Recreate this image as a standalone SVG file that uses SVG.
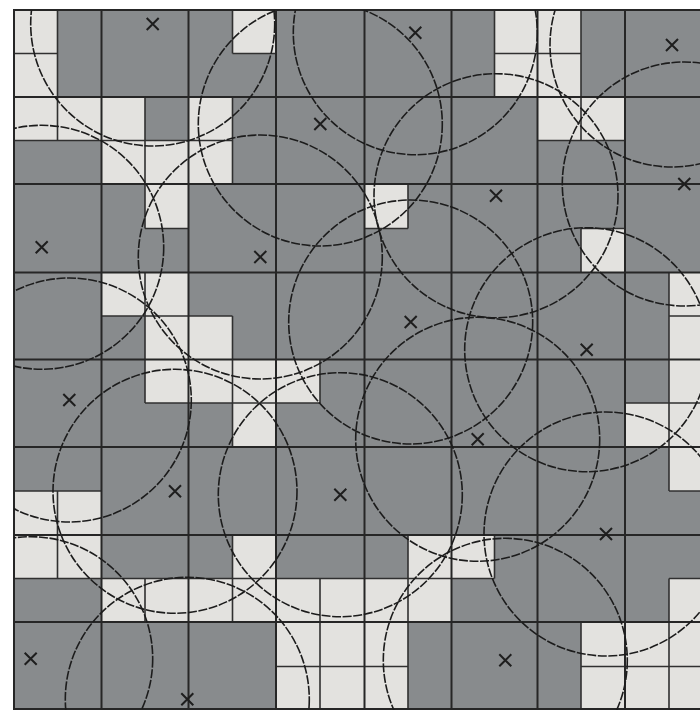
<svg xmlns="http://www.w3.org/2000/svg" width="700" height="710" viewBox="0 0 700 710">
<defs>
<style>
.dark{fill:#888b8d}
.light{fill:#e3e2df}
.major{stroke:#262626;stroke-width:2;fill:none}
.minor{stroke:#303030;stroke-width:1.6;fill:none}
.circ{stroke:#1c1c1c;stroke-width:1.6;fill:none;stroke-dasharray:9 1.6}
.mark{stroke:#1e1e1e;stroke-width:2;fill:none}
</style>
<clipPath id="area"><rect x="14" y="10" width="699" height="700"/></clipPath>
<path id="x" d="M-6,-6L6,6M-6,6L6,-6"/>
</defs>
<rect width="700" height="710" fill="#ffffff"/>
<g id="cells">
<rect class="dark" x="14" y="10" width="699" height="700"/>
<rect class="light" x="14" y="10" width="43.5" height="87"/>
<rect class="light" x="232.5" y="10" width="43.5" height="43.5"/>
<rect class="light" x="494.5" y="10" width="86.5" height="87"/>
<rect class="light" x="14" y="97" width="131" height="43.5"/>
<rect class="light" x="188.5" y="97" width="44" height="43.5"/>
<rect class="light" x="537.5" y="97" width="87.5" height="43.5"/>
<rect class="light" x="101.5" y="140.5" width="131" height="43.5"/>
<rect class="light" x="145" y="184" width="43.5" height="44.5"/>
<rect class="light" x="364.5" y="184" width="43.5" height="44.5"/>
<rect class="light" x="581" y="228.5" width="44" height="44"/>
<rect class="light" x="101.5" y="272.5" width="87" height="43.5"/>
<rect class="light" x="145" y="316" width="87.5" height="43.5"/>
<rect class="light" x="145" y="359.5" width="175" height="43.5"/>
<rect class="light" x="232.5" y="403" width="43.5" height="44"/>
<rect class="light" x="625" y="403" width="44" height="44"/>
<rect class="light" x="669" y="272.5" width="44" height="218.5"/>
<rect class="light" x="14" y="491" width="87.5" height="87.5"/>
<rect class="light" x="232.5" y="535" width="43.5" height="43.5"/>
<rect class="light" x="408" y="535" width="86.5" height="43.5"/>
<rect class="light" x="101.5" y="578.5" width="350" height="43.5"/>
<rect class="light" x="669" y="578.5" width="44" height="43.5"/>
<rect class="light" x="276" y="622" width="132" height="88"/>
<rect class="light" x="581" y="622" width="132" height="88"/>
</g>
<g id="grid">
<path class="minor" d="M14,53.5H57.5M232.5,53.5H276M494.5,53.5H581
M14,140.5H232.5M537.5,140.5H625
M145,228.5H188.5M364.5,228.5H408M581,228.5H625
M101.5,316H232.5M669,316H713
M145,403H320M625,403H713
M14,491H101.5M669,491H713
M14,578.5H494.5M669,578.5H713
M276,666.5H408M581,666.5H713
M57.5,10V140.5M57.5,491V578.5
M145,97V228.5M145,272.5V403M145,578.5V622
M232.5,10V53.5M232.5,97V184M232.5,316V447M232.5,535V622
M320,359.5V403M320,578.5V710
M408,184V228.5M408,535V710
M494.5,10V97M494.5,535V578.5
M581,10V140.5M581,228.5V272.5M581,622V710
M669,272.5V491M669,578.5V710"/>
<path class="major" d="M14,97H713M14,184H713M14,272.5H713M14,359.5H713M14,447H713M14,535H713M14,622H713M14,709H713
M101.5,10V710M188.5,10V710M276,10V710M364.5,10V710M451.5,10V710M537.5,10V710M625,10V710"/>
<path class="major" stroke-width="2.6" d="M713,10H14V710"/>
</g>
<g id="circles" clip-path="url(#area)">
<circle class="circ" cx="152.7" cy="24" r="122"/>
<circle class="circ" cx="415.3" cy="32.7" r="122"/>
<circle class="circ" cx="672" cy="45" r="122"/>
<circle class="circ" cx="320.3" cy="124" r="122"/>
<circle class="circ" cx="684.3" cy="184" r="122"/>
<circle class="circ" cx="496" cy="195.7" r="122"/>
<circle class="circ" cx="41.7" cy="247.3" r="122"/>
<circle class="circ" cx="260.3" cy="257" r="122"/>
<circle class="circ" cx="410.7" cy="322" r="122"/>
<circle class="circ" cx="586.7" cy="349.7" r="122"/>
<circle class="circ" cx="69.3" cy="400" r="122"/>
<circle class="circ" cx="477.7" cy="439.3" r="122"/>
<circle class="circ" cx="175" cy="491.3" r="122"/>
<circle class="circ" cx="340.3" cy="494.7" r="122"/>
<circle class="circ" cx="606" cy="534" r="122"/>
<circle class="circ" cx="30.7" cy="658.7" r="122"/>
<circle class="circ" cx="505.3" cy="660.3" r="122"/>
<circle class="circ" cx="187.3" cy="699.3" r="122"/>
</g>
<g id="marks" class="mark">
<use href="#x" x="152.7" y="24"/>
<use href="#x" x="415.3" y="32.7"/>
<use href="#x" x="672" y="45"/>
<use href="#x" x="320.3" y="124"/>
<use href="#x" x="684.3" y="184"/>
<use href="#x" x="496" y="195.7"/>
<use href="#x" x="41.7" y="247.3"/>
<use href="#x" x="260.3" y="257"/>
<use href="#x" x="410.7" y="322"/>
<use href="#x" x="586.7" y="349.7"/>
<use href="#x" x="69.3" y="400"/>
<use href="#x" x="477.7" y="439.3"/>
<use href="#x" x="175" y="491.3"/>
<use href="#x" x="340.3" y="494.7"/>
<use href="#x" x="606" y="534"/>
<use href="#x" x="30.7" y="658.7"/>
<use href="#x" x="505.3" y="660.3"/>
<use href="#x" x="187.3" y="699.3"/>
</g>
</svg>
